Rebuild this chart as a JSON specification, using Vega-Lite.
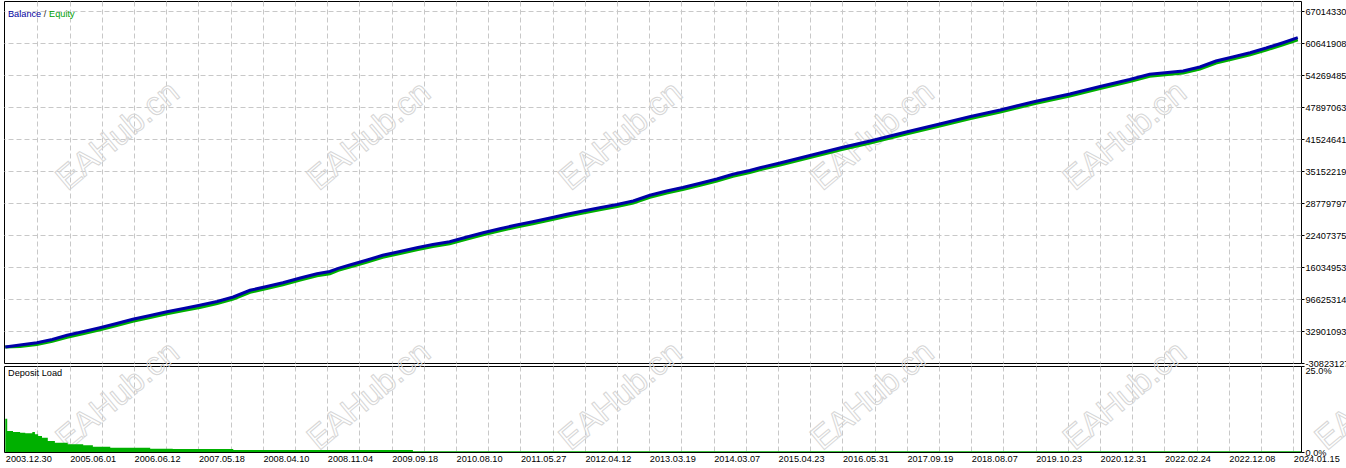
{
  "$schema": "https://vega.github.io/schema/vega-lite/v6.json",
  "padding": {"left": -2, "top": 0, "right": 0, "bottom": 0},
  "background": "white",
  "bounds": "flush",
  "spacing": 3,
  "datasets": {
    "main": [
      {"i": 0, "balance": 100000, "equity": 100000},
      {"i": 23, "balance": 502000, "equity": 210000},
      {"i": 49, "balance": 960000, "equity": 600000},
      {"i": 73, "balance": 1598000, "equity": 1220000},
      {"i": 96, "balance": 2434000, "equity": 2050000},
      {"i": 122, "balance": 3191000, "equity": 2800000},
      {"i": 147, "balance": 3947000, "equity": 3550000},
      {"i": 173, "balance": 4784000, "equity": 4400000},
      {"i": 198, "balance": 5620000, "equity": 5210000},
      {"i": 225, "balance": 6377000, "equity": 5980000},
      {"i": 251, "balance": 7134000, "equity": 6720000},
      {"i": 277, "balance": 7771000, "equity": 7390000},
      {"i": 302, "balance": 8408000, "equity": 7980000},
      {"i": 329, "balance": 9165000, "equity": 8780000},
      {"i": 354, "balance": 10061000, "equity": 9660000},
      {"i": 380, "balance": 11395000, "equity": 11000000},
      {"i": 406, "balance": 12152000, "equity": 11750000},
      {"i": 431, "balance": 12909000, "equity": 12500000},
      {"i": 458, "balance": 13845000, "equity": 13440000},
      {"i": 484, "balance": 14701000, "equity": 14300000},
      {"i": 504, "balance": 15139000, "equity": 14680000},
      {"i": 517, "balance": 15776000, "equity": 15380000},
      {"i": 535, "balance": 16433000, "equity": 16040000},
      {"i": 562, "balance": 17429000, "equity": 17020000},
      {"i": 586, "balance": 18365000, "equity": 17960000},
      {"i": 613, "balance": 19122000, "equity": 18700000},
      {"i": 639, "balance": 19878000, "equity": 19480000},
      {"i": 664, "balance": 20516000, "equity": 20110000},
      {"i": 690, "balance": 21073000, "equity": 20660000},
      {"i": 717, "balance": 22009000, "equity": 21600000},
      {"i": 742, "balance": 22865000, "equity": 22460000},
      {"i": 768, "balance": 23662000, "equity": 23270000},
      {"i": 794, "balance": 24399000, "equity": 24000000},
      {"i": 819, "balance": 25056000, "equity": 24650000},
      {"i": 846, "balance": 25793000, "equity": 25400000},
      {"i": 872, "balance": 26530000, "equity": 26120000},
      {"i": 897, "balance": 27187000, "equity": 26780000},
      {"i": 923, "balance": 27844000, "equity": 27440000},
      {"i": 950, "balance": 28481000, "equity": 28070000},
      {"i": 975, "balance": 29178000, "equity": 28780000},
      {"i": 1001, "balance": 30313000, "equity": 29900000},
      {"i": 1027, "balance": 31170000, "equity": 30770000},
      {"i": 1052, "balance": 31866000, "equity": 31460000},
      {"i": 1079, "balance": 32703000, "equity": 32300000},
      {"i": 1105, "balance": 33559000, "equity": 33150000},
      {"i": 1130, "balance": 34495000, "equity": 34090000},
      {"i": 1156, "balance": 35252000, "equity": 34850000},
      {"i": 1172, "balance": 35809000, "equity": 35400000},
      {"i": 1203, "balance": 36745000, "equity": 36340000},
      {"i": 1234, "balance": 37741000, "equity": 37330000},
      {"i": 1265, "balance": 38737000, "equity": 38330000},
      {"i": 1299, "balance": 39832000, "equity": 39420000},
      {"i": 1343, "balance": 41126000, "equity": 40720000},
      {"i": 1399, "balance": 42919000, "equity": 42510000},
      {"i": 1451, "balance": 44512000, "equity": 44100000},
      {"i": 1499, "balance": 46005000, "equity": 45600000},
      {"i": 1545, "balance": 47300000, "equity": 46890000},
      {"i": 1599, "balance": 48992000, "equity": 48580000},
      {"i": 1653, "balance": 50486000, "equity": 50080000},
      {"i": 1700, "balance": 51979000, "equity": 51570000},
      {"i": 1746, "balance": 53373000, "equity": 52960000},
      {"i": 1777, "balance": 54409000, "equity": 54000000},
      {"i": 1829, "balance": 55066000, "equity": 54660000},
      {"i": 1855, "balance": 55863000, "equity": 55450000},
      {"i": 1880, "balance": 57057000, "equity": 56650000},
      {"i": 1906, "balance": 57854000, "equity": 57450000},
      {"i": 1933, "balance": 58710000, "equity": 58300000},
      {"i": 1958, "balance": 59646000, "equity": 59240000},
      {"i": 1984, "balance": 60702000, "equity": 60290000},
      {"i": 2007, "balance": 61697000, "equity": 61290000}
    ],
    "load": [
      {"i": 0, "load": 9.7},
      {"i": 3, "load": 6.1},
      {"i": 12, "load": 5.8},
      {"i": 23, "load": 5.6},
      {"i": 31, "load": 5.45},
      {"i": 42, "load": 5.8},
      {"i": 46, "load": 5.15},
      {"i": 51, "load": 4.65},
      {"i": 57, "load": 4.16},
      {"i": 66, "load": 3.2},
      {"i": 77, "load": 2.7},
      {"i": 97, "load": 2.24},
      {"i": 121, "load": 1.95},
      {"i": 136, "load": 1.54},
      {"i": 163, "load": 1.25},
      {"i": 225, "load": 0.96},
      {"i": 260, "load": 0.87},
      {"i": 354, "load": 0.58},
      {"i": 633, "load": 0.25},
      {"i": 2012, "load": 0.25}
    ],
    "wmTop": [
      {"i": 175, "v": 42122000},
      {"i": 565, "v": 42122000},
      {"i": 956, "v": 42122000},
      {"i": 1347, "v": 42122000},
      {"i": 1739, "v": 42122000}
    ],
    "wmBottom": [
      {"i": 175, "v": 16.3},
      {"i": 565, "v": 16.3},
      {"i": 956, "v": 16.3},
      {"i": 1347, "v": 16.3},
      {"i": 1739, "v": 16.3},
      {"i": 2130, "v": 16.3}
    ],
    "legendTop": [
      {"i": 4.2, "v": 66516000, "t": "Balance"},
      {"i": 59.8, "v": 66516000, "t": "/"},
      {"i": 68, "v": 66516000, "t": "Equity"}
    ],
    "legendBottom": [
      {"i": 4.2, "v": 22.9, "t": "Deposit Load"}
    ]
  },
  "vconcat": [
    {
      "width": 1297,
      "height": 362,
      "encoding": {
        "x": {"field": "i", "type": "quantitative", "scale": {"domain": [-2, 2012], "nice": false, "zero": false},
          "axis": {"orient": "bottom", "tickCount": 200, "values": [0,50,100,150,200,250,300,350,400,450,500,550,600,650,700,750,800,850,900,950,1000,1050,1100,1150,1200,1250,1300,1350,1400,1450,1500,1550,1600,1650,1700,1750,1800,1850,1900,1950,2000], "labels": false, "ticks": false, "grid": true, "gridOpacity": {"condition": {"test": "datum.value == 0", "value": 0}, "value": 1}, "title": null}}
      },
      "layer": [
        {
          "data": {"name": "wmTop"},
          "mark": {"type": "text", "text": "EAHub.cn", "font": "Liberation Sans", "fontSize": 33, "angle": 320, "align": "center", "baseline": "middle", "fill": "transparent", "stroke": "#d6d6d6", "strokeWidth": 1},
          "encoding": {
            "y": {"field": "v", "type": "quantitative", "scale": {"domain": [-3082312, 69005712], "nice": false, "zero": false},
              "axis": {"orient": "right", "title": null, "tickCount": 100, "values": [67014330, 60641908, 54269485, 47897063, 41524641, 35152219, 28779797, 22407375, 16034953, 9662531, 3290109, -3082312], "labelExpr": "datum.value == 9662531 ? '96625314' : datum.value == 3290109 ? '32901093' : datum.value == -3082312 ? '-30823127' : format(datum.value, 'd')", "labelAlign": "left", "labelBaseline": "middle", "labelPadding": 1, "tickSize": 3, "labelOverlap": false, "labelBound": false, "labelFlush": false, "grid": true, "gridOpacity": {"condition": {"test": "datum.value < 0", "value": 0}, "value": 1}}}
          }
        },
        {
          "data": {"name": "main"},
          "mark": {"type": "line", "strokeWidth": 3, "color": "#00b000"},
          "encoding": {"y": {"field": "equity", "type": "quantitative"}}
        },
        {
          "data": {"name": "main"},
          "mark": {"type": "line", "strokeWidth": 3, "color": "#0000a8"},
          "encoding": {"y": {"field": "balance", "type": "quantitative"}}
        },
        {
          "data": {"name": "legendTop"},
          "mark": {"type": "text", "align": "left", "baseline": "middle", "font": "Liberation Sans", "fontSize": 9.2},
          "encoding": {
            "y": {"field": "v", "type": "quantitative"},
            "text": {"field": "t"},
            "color": {"field": "t", "type": "nominal", "scale": {"domain": ["Balance", "/", "Equity"], "range": ["#0000a0", "#303030", "#00a000"]}, "legend": null}
          }
        }
      ]
    },
    {
      "width": 1297,
      "height": 86,
      "encoding": {
        "x": {"field": "i", "type": "quantitative", "scale": {"domain": [-2, 2012], "nice": false, "zero": false},
          "axis": {"orient": "bottom", "title": null, "tickCount": 200, "values": [0,50,100,150,200,250,300,350,400,450,500,550,600,650,700,750,800,850,900,950,1000,1050,1100,1150,1200,1250,1300,1350,1400,1450,1500,1550,1600,1650,1700,1750,1800,1850,1900,1950,2000],
            "labelExpr": "datum.value % 100 == 0 ? ['2003.12.30','2005.06.01','2006.06.12','2007.05.18','2008.04.10','2008.11.04','2009.09.18','2010.08.10','2011.05.27','2012.04.12','2013.03.19','2014.03.07','2015.04.23','2016.05.31','2017.09.19','2018.08.07','2019.10.23','2020.12.31','2022.02.24','2022.12.08','2024.01.15'][datum.value / 100] : ''",
            "labelAlign": "left", "labelBaseline": "top", "labelPadding": 2, "ticks": false, "labelOverlap": false, "labelBound": false, "labelFlush": false,
            "grid": true, "gridOpacity": {"condition": {"test": "datum.value == 0", "value": 0}, "value": 1}}}
      },
      "layer": [
        {
          "data": {"name": "wmBottom"},
          "mark": {"type": "text", "text": "EAHub.cn", "font": "Liberation Sans", "fontSize": 33, "angle": 320, "align": "center", "baseline": "middle", "fill": "transparent", "stroke": "#d6d6d6", "strokeWidth": 1},
          "encoding": {
            "y": {"field": "v", "type": "quantitative", "scale": {"domain": [0, 25], "nice": false, "zero": false},
              "axis": {"orient": "right", "title": null, "tickCount": 20, "values": [0, 25], "labelExpr": "format(datum.value, '.1f') + '%'", "labelAlign": "left", "labelBaseline": {"condition": {"test": "datum.value == 25", "value": "top"}, "value": "middle"}, "labelPadding": 1, "tickSize": 3, "grid": false, "labelOverlap": false, "labelBound": false, "labelFlush": false}}
          }
        },
        {
          "data": {"name": "load"},
          "mark": {"type": "area", "interpolate": "step-after", "color": "#00b000"},
          "encoding": {"y": {"field": "load", "type": "quantitative"}}
        },
        {
          "data": {"name": "legendBottom"},
          "mark": {"type": "text", "align": "left", "baseline": "middle", "font": "Liberation Sans", "fontSize": 9.2, "color": "#000000"},
          "encoding": {
            "y": {"field": "v", "type": "quantitative"},
            "text": {"field": "t"}
          }
        }
      ]
    }
  ],
  "resolve": {"scale": {"y": "independent"}},
  "config": {
    "font": "Liberation Sans",
    "view": {"stroke": "black", "strokeWidth": 1},
    "axis": {"domain": false, "labelFont": "Liberation Sans", "labelFontSize": 9.2, "labelColor": "black", "gridColor": "#c8c8c8", "gridDash": [5, 3], "gridWidth": 1, "tickColor": "black"}
  }
}
